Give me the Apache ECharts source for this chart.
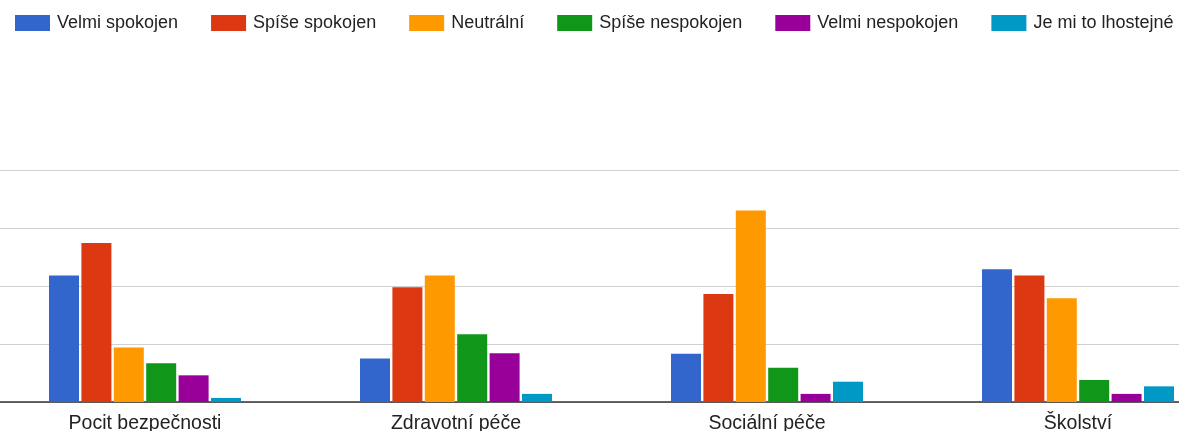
<!DOCTYPE html>
<html>
<head>
<meta charset="utf-8">
<script src="https://cdn.jsdelivr.net/npm/echarts@6/dist/echarts.min.js"></script>
<style>
html,body{margin:0;padding:0;background:#fff;}
#chart{width:1179px;height:431px;}
</style>
</head>
<body>
<div id="chart"></div>
<script>
const categories = ['Pocit bezpečnosti', 'Zdravotní péče', 'Sociální péče', 'Školství'];
const seriesNames = ['Velmi spokojen', 'Spíše spokojen', 'Neutrální', 'Spíše nespokojen', 'Velmi nespokojen', 'Je mi to lhostejné'];
const velmiSpokojen = [21.8, 7.5, 8.3, 22.9];
const spiseSpokojen = [27.4, 19.8, 18.6, 21.8];
const neutralni = [9.4, 21.8, 33.0, 17.9];
const spiseNespokojen = [6.7, 11.7, 5.9, 3.8];
const velmiNespokojen = [4.6, 8.4, 1.4, 1.4];
const lhostejne = [0.7, 1.4, 3.5, 2.7];
const colors = ['#3366cc', '#dc3912', '#ff9900', '#109618', '#990099', '#0099c6'];

const values = [velmiSpokojen, spiseSpokojen, neutralni, spiseNespokojen, velmiNespokojen, lhostejne];
const chart = echarts.init(document.getElementById('chart'), null, {renderer: 'canvas'});
chart.setOption({
  animation: false,
  color: colors,
  textStyle: {fontFamily: '"Liberation Sans", Arial, sans-serif'},
  legend: {
    left: 10, top: 9,
    itemWidth: 35, itemHeight: 16, itemGap: 33,
    icon: 'rect',
    textStyle: {fontSize: 18, color: '#222', padding: [0, 0, 0, 2], fontFamily: '"Liberation Sans", Arial, sans-serif'},
    data: seriesNames
  },
  grid: {left: -10.5, width: 1244, top: 170, bottom: 29, containLabel: false, outerBoundsMode: 'none'},
  xAxis: {
    type: 'category',
    data: categories,
    axisLine: {lineStyle: {color: '#333', width: 1.5}},
    axisTick: {show: false},
    axisLabel: {fontSize: 19.5, color: '#222', margin: 12, fontFamily: '"Liberation Sans", Arial, sans-serif'}
  },
  yAxis: {
    type: 'value', min: 0, max: 40, interval: 10,
    axisLabel: {show: false},
    axisLine: {show: false},
    axisTick: {show: false},
    splitLine: {lineStyle: {color: '#d0d0d0', width: 1.2}}
  },
  series: seriesNames.map((n, i) => ({
    name: n, type: 'bar', data: values[i],
    barWidth: 30, barGap: '8%'
  }))
});
</script>
</body>
</html>
